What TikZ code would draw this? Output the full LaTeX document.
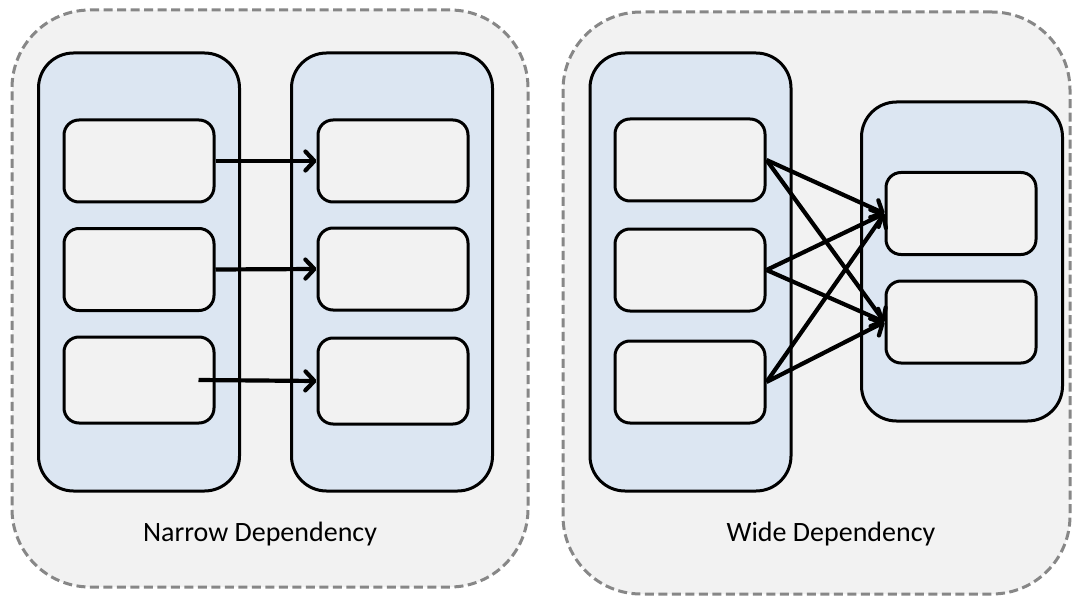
\documentclass[tikz,border=0pt]{standalone}
\usepackage{fontspec}
\setmainfont{Carlito}
\usetikzlibrary{arrows.meta,calc}
\definecolor{panelfill}{HTML}{F2F2F2}
\definecolor{panelline}{HTML}{878787}
\definecolor{colfill}{HTML}{DCE6F2}
\definecolor{boxfill}{HTML}{F2F2F2}
\tikzset{
  panel/.style={draw=panelline, fill=panelfill, line width=3pt,
    dash pattern=on 9pt off 4.5pt, rounded corners=78pt, inner sep=0pt},
  column/.style={draw=black, fill=colfill, line width=3pt,
    rounded corners=35pt, minimum width=201pt, inner sep=0pt},
  part/.style={draw=black, fill=boxfill, line width=3pt,
    rounded corners=15pt, minimum width=150pt, minimum height=82pt, inner sep=0pt},
  dep/.style={line width=4.2pt, -{Straight Barb[length=9pt,width=19pt,line cap=round,line join=round]}},
  caption/.style={font=\fontsize{28}{32}\selectfont, text=black, anchor=base}
}
\begin{document}
\begin{tikzpicture}[x=1pt,y=-1pt]
\useasboundingbox (0,0) rectangle (1073,596);

% panels
\node[panel, minimum width=516pt, minimum height=577pt] (leftpanel) at (270,298.5) {};
\node[panel, minimum width=507pt, minimum height=582pt] (rightpanel) at (816.5,303) {};

% narrow dependency
\node[column, minimum height=438pt] (lp) at (139,272) {};
\node[column, minimum height=438pt] (lc) at (392,272) {};
\node[part] (lp1) at (139,161) {};
\node[part] (lp2) at (139,269.5) {};
\node[part, minimum height=86pt] (lp3) at (139,380) {};
\node[part] (lc1) at (393,161) {};
\node[part] (lc2) at (393,269) {};
\node[part, minimum height=86pt] (lc3) at (393,381) {};
\coordinate (lp3out) at ($(lp3.east)+(-17pt,0)$);
\draw[dep] (lp1.east) -- (lc1.west);
\draw[dep] (lp2.east) -- (lc2.west);
\draw[dep] (lp3out) -- (lc3.west);
\node[caption] (ncap) at (260,541) {Narrow Dependency};

% wide dependency
\node[column, minimum height=438pt] (rp) at (690.5,272) {};
\node[column, minimum height=319pt] (rc) at (962,261.5) {};
\node[part] (rp1) at (690,160) {};
\node[part] (rp2) at (690,270) {};
\node[part] (rp3) at (690,382) {};
\node[part] (rc1) at (961,213.5) {};
\node[part] (rc2) at (961,322) {};
\foreach \s in {rp1,rp2,rp3}
  \foreach \t in {rc1,rc2}
    \draw[dep] (\s.east) -- (\t.west);
\node[caption] (wcap) at (831,541) {Wide Dependency};
\end{tikzpicture}
\end{document}
